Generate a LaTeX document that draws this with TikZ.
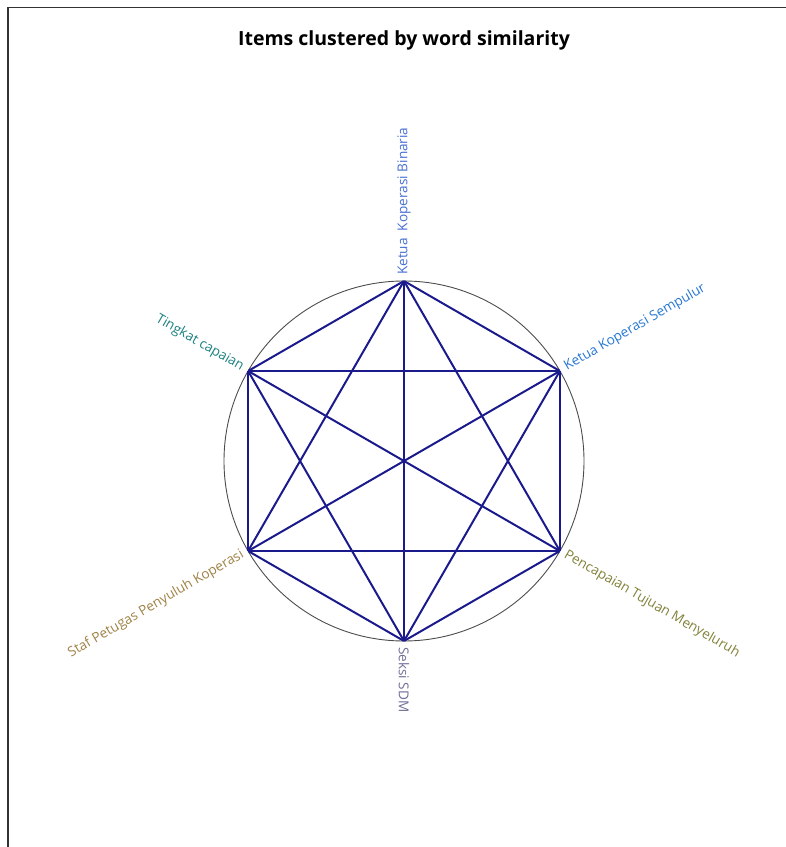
\documentclass[tikz,border=0pt]{standalone}
\usepackage{fontspec}
\setmainfont{Open Sans}
\usetikzlibrary{calc}
\definecolor{edgec}{RGB}{26,26,140}
\definecolor{cBinaria}{RGB}{70,110,210}
\definecolor{cSempulur}{RGB}{40,120,210}
\definecolor{cPencapaian}{RGB}{130,130,60}
\definecolor{cSeksi}{RGB}{110,110,150}
\definecolor{cStaf}{RGB}{160,130,70}
\definecolor{cTingkat}{RGB}{30,130,130}
\tikzset{
  vtx/.style={circle,inner sep=0pt,minimum size=0pt},
  edge/.style={draw=edgec,line width=2pt},
  lab/.style={font=\fontsize{13.6}{16}\selectfont,inner sep=0pt},
  ring/.style={draw=black!70,line width=0.9pt},
  frame/.style={draw=black!80,line width=1.6pt}
}
\begin{document}
\begin{tikzpicture}[x=1pt,y=1pt]
\useasboundingbox (0,0) rectangle (786,847);
\draw[frame] (8,0) -- (8,839.5) -- (786,839.5);
\node[font=\fontsize{19.5}{22}\selectfont\bfseries] (title) at (404,807) {Items clustered by word similarity};
\coordinate (c) at (404,386);
\draw[ring] (c) circle (180);
\node[vtx] (a) at ($(c)+(90:180)$) {};
\node[vtx] (b) at ($(c)+(30:180)$) {};
\node[vtx] (d) at ($(c)+(-30:180)$) {};
\node[vtx] (e) at ($(c)+(-90:180)$) {};
\node[vtx] (f) at ($(c)+(210:180)$) {};
\node[vtx] (g) at ($(c)+(150:180)$) {};
\foreach \u/\v in {a/b,a/d,a/e,a/f,a/g,b/d,b/e,b/f,b/g,d/e,d/f,d/g,e/f,e/g,f/g}
  \draw[edge] (\u) -- (\v);
\node[lab,text=cBinaria,rotate=90,anchor=west] (la) at ($(c)+(90:186)$) {Ketua\ \ Koperasi Binaria};
\node[lab,text=cSempulur,rotate=30,anchor=west] (lb) at ($(c)+(30:186)$) {Ketua Koperasi Sempulur};
\node[lab,text=cPencapaian,rotate=-30,anchor=west] (ld) at ($(c)+(-30:186)$) {Pencapaian Tujuan Menyeluruh};
\node[lab,text=cSeksi,rotate=-90,anchor=west] (le) at ($(c)+(-90:186)$) {Seksi SDM};
\node[lab,text=cStaf,rotate=30,anchor=east] (lf) at ($(c)+(210:186)$) {Staf Petugas Penyuluh Koperasi};
\node[lab,text=cTingkat,rotate=-30,anchor=east] (lg) at ($(c)+(150:186)$) {Tingkat capaian};
\end{tikzpicture}
\end{document}
